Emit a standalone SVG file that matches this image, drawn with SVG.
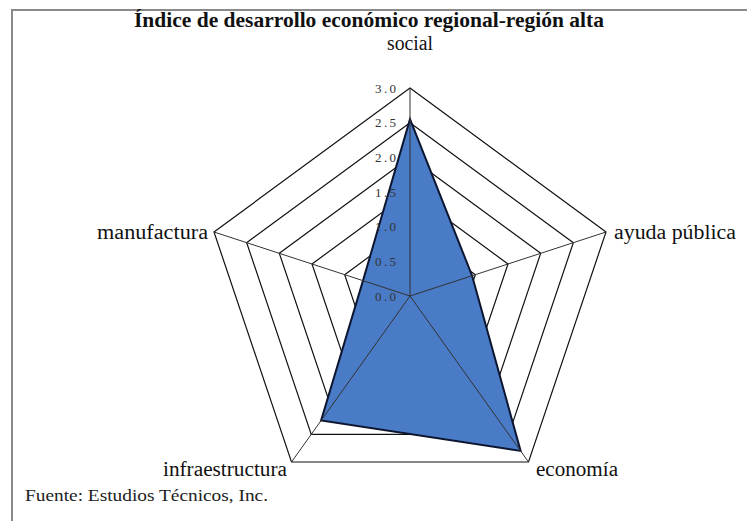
<svg xmlns="http://www.w3.org/2000/svg" width="747" height="521" viewBox="0 0 747 521">
<style>
.ring{fill:none;stroke:#111;stroke-width:1.2}
.spoke{stroke:#333;stroke-width:1}
.lbl{font-family:"Liberation Serif","Times New Roman",serif;font-size:20px;fill:#111}
.tick{font-family:"Liberation Serif","Times New Roman",serif;font-size:13px;fill:#333;text-anchor:end}
</style>
<rect x="0" y="0" width="747" height="521" fill="#fff"/>
<path d="M12,521 L12,10 L747,10" fill="none" stroke="#8a8a8a" stroke-width="2"/>
<text x="369" y="27" text-anchor="middle" font-family="Liberation Serif,Times New Roman,serif" font-weight="bold" font-size="21" fill="#111" textLength="470" lengthAdjust="spacingAndGlyphs">Índice de desarrollo económico regional-región alta</text>
<g id="grid">
<polygon class="ring" points="410,88 606,232 528.5,462 291.5,462 214,232"/>
<polygon class="ring" points="410,122.67 573.33,242.67 508.75,434.33 311.25,434.33 246.67,242.67"/>
<polygon class="ring" points="410,157.33 540.67,253.33 489,406.67 331,406.67 279.33,253.33"/>
<polygon class="ring" points="410,192 508,264 469.25,379 350.75,379 312,264"/>
<polygon class="ring" points="410,226.67 475.33,274.67 449.5,351.33 370.5,351.33 344.67,274.67"/>
<polygon class="ring" points="410,261.33 442.67,285.33 429.75,323.67 390.25,323.67 377.33,285.33"/>
</g>
<g id="data">
<polygon points="410,119.2 472.1,275.7 520.6,450.9 321.1,420.5 363,280.6" fill="#4a7bc7" stroke="#0d1630" stroke-width="2" stroke-linejoin="miter"/>
</g>
<g id="connectors">
<line class="spoke" x1="410" y1="296" x2="410" y2="88"/>
<line class="spoke" x1="410" y1="296" x2="606" y2="232"/>
<line class="spoke" x1="410" y1="296" x2="528.5" y2="462"/>
<line class="spoke" x1="410" y1="296" x2="291.5" y2="462"/>
<line class="spoke" x1="410" y1="296" x2="214" y2="232"/>
</g>
<g id="ticks">
<text class="tick" x="396" y="300.5" textLength="21" lengthAdjust="spacing">0.0</text>
<text class="tick" x="396" y="265.8" textLength="21" lengthAdjust="spacing">0.5</text>
<text class="tick" x="396" y="231.2" textLength="21" lengthAdjust="spacing">1.0</text>
<text class="tick" x="396" y="196.5" textLength="21" lengthAdjust="spacing">1.5</text>
<text class="tick" x="396" y="161.8" textLength="21" lengthAdjust="spacing">2.0</text>
<text class="tick" x="396" y="127.2" textLength="21" lengthAdjust="spacing">2.5</text>
<text class="tick" x="396" y="92.5" textLength="21" lengthAdjust="spacing">3.0</text>
</g>
<g id="social"><text class="lbl" x="410" y="50" text-anchor="middle" textLength="46" lengthAdjust="spacingAndGlyphs">social</text></g>
<g id="ayuda"><text class="lbl" x="614" y="239" textLength="122" lengthAdjust="spacingAndGlyphs">ayuda pública</text></g>
<g id="economia"><text class="lbl" x="536" y="476" textLength="82" lengthAdjust="spacingAndGlyphs">economía</text></g>
<g id="infraestructura"><text class="lbl" x="287" y="476" text-anchor="end" textLength="124" lengthAdjust="spacingAndGlyphs">infraestructura</text></g>
<g id="manufactura"><text class="lbl" x="208" y="239" text-anchor="end" textLength="111" lengthAdjust="spacingAndGlyphs">manufactura</text></g>
<text x="25" y="501" font-family="Liberation Serif,Times New Roman,serif" font-size="17" fill="#222" textLength="243" lengthAdjust="spacingAndGlyphs">Fuente:  Estudios Técnicos, Inc.</text>
</svg>
